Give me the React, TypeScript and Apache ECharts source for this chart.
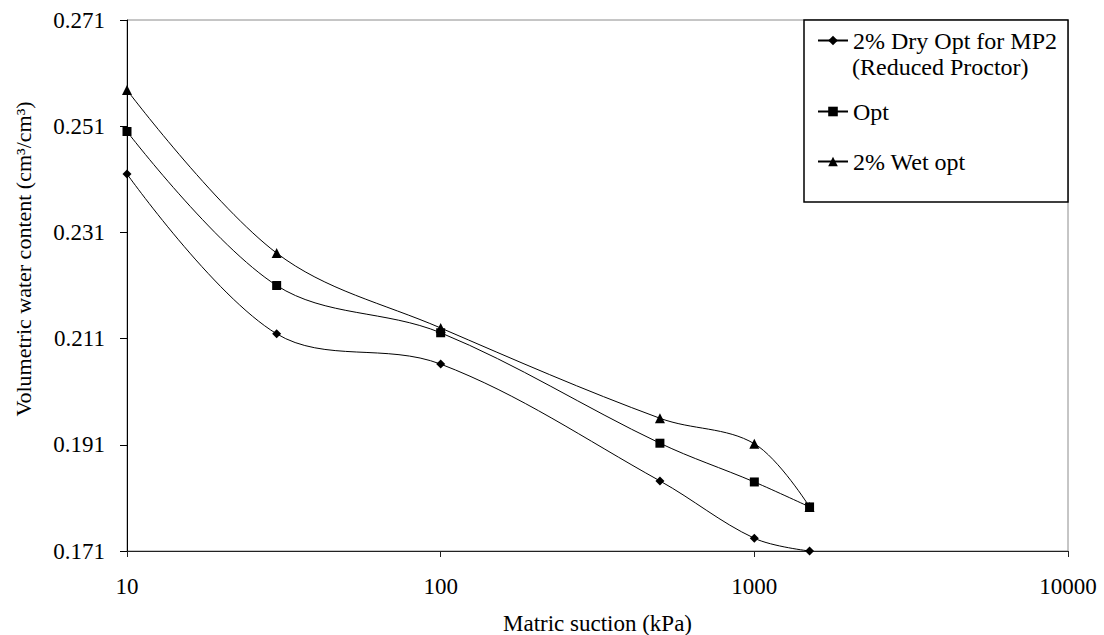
import React, { useEffect, useRef } from "react";
import * as echarts from "echarts";

const suction = [10, 30, 100, 500, 1000, 1500];
const dryOpt = [0.242, 0.2119, 0.2062, 0.1842, 0.1734, 0.171];
const opt = [0.25, 0.221, 0.2121, 0.1913, 0.184, 0.1793];
const wetOpt = [0.2578, 0.2271, 0.213, 0.196, 0.1912, 0.1793];
const seriesNames = ["2% Dry Opt for MP2 (Reduced Proctor)", "Opt", "2% Wet opt"];
const FONT = "Liberation Serif, Times New Roman, serif";

const pairs = (ys: number[]) => suction.map((x, i) => [x, ys[i]]);

export default function App() {
  const ref = useRef<HTMLDivElement>(null);
  useEffect(() => {
    if (!ref.current) return;
    const chart = echarts.init(ref.current, null, { renderer: "svg" });
    const baseSeries = (name: string, data: number[], symbol: string, size: number) => ({
      name,
      type: "line",
      data: pairs(data),
      smooth: 0.35,
      symbol,
      symbolSize: size,
      clip: false,
      lineStyle: { color: "#000", width: 1 },
      itemStyle: { color: "#000" },
      z: 3,
    });
    const legendText = { fontFamily: FONT, fontSize: 24, color: "#000", lineHeight: 27 };
    const legendCommon = {
      orient: "vertical",
      left: 817,
      padding: 0,
      itemWidth: 30,
      itemHeight: 12,
      textStyle: legendText,
      selectedMode: false,
      z: 6,
    };
    chart.setOption({
      animation: false,
      textStyle: { fontFamily: FONT },
      grid: {
        left: 127,
        right: 36,
        top: 20,
        bottom: 84,
        show: true,
        borderColor: "#8c8c8c",
        borderWidth: 1,
        outerBoundsMode: "none",
        containLabel: false,
      },
      xAxis: {
        type: "log",
        logBase: 10,
        min: 10,
        max: 10000,
        axisLine: { lineStyle: { color: "#222", width: 1 } },
        axisTick: { inside: false, length: 6, lineStyle: { color: "#222" } },
        minorTick: { show: false },
        splitLine: { show: false },
        axisLabel: {
          margin: 24,
          fontFamily: FONT,
          fontSize: 23,
          color: "#000",
          formatter: (v: number) => String(Math.round(v)),
        },
        name: "Matric suction (kPa)",
        nameLocation: "middle",
        nameGap: 61,
        nameTextStyle: { fontFamily: FONT, fontSize: 23, lineHeight: 22, color: "#000" },
      },
      yAxis: {
        type: "value",
        min: 0.171,
        max: 0.271,
        interval: 0.02,
        axisLine: { show: true, lineStyle: { color: "#000", width: 1 } },
        axisTick: { show: true, inside: false, length: 7, lineStyle: { color: "#000" } },
        splitLine: { show: false },
        axisLabel: {
          margin: 22,
          fontFamily: FONT,
          fontSize: 23,
          color: "#000",
          formatter: (v: number) => v.toFixed(3),
        },
      },
      legend: [
        {
          ...legendCommon,
          top: 27,
          data: [seriesNames[0]],
          formatter: () => "2% Dry Opt for MP2",
        },
        { ...legendCommon, top: 98, data: [seriesNames[1]] },
        { ...legendCommon, top: 148, data: [seriesNames[2]] },
      ],
      graphic: [
        {
          type: "rect",
          z: 5,
          shape: { x: 804, y: 20, width: 264, height: 182 },
          style: { fill: "#fff", stroke: "#000", lineWidth: 1.5 },
        },
        {
          type: "text",
          z: 7,
          x: 852,
          y: 67,
          style: {
            text: "(Reduced Proctor)",
            fontFamily: FONT,
            fontSize: 24,
            fill: "#000",
            align: "left",
            verticalAlign: "middle",
          },
        },
        {
          type: "text",
          z: 7,
          x: 23,
          y: 259,
          rotation: Math.PI / 2,
          style: {
            text: "Volumetric water content (cm³/cm³)",
            fontFamily: FONT,
            fontSize: 22,
            fill: "#000",
            align: "center",
            verticalAlign: "middle",
          },
        },
      ],
      series: [
        baseSeries(seriesNames[0], dryOpt, "diamond", 9),
        baseSeries(seriesNames[1], opt, "rect", 9),
        baseSeries(seriesNames[2], wetOpt, "triangle", 10),
      ],
    });
    return () => chart.dispose();
  }, []);
  return <div ref={ref} style={{ width: 1104, height: 635, position: "absolute", left: 0, top: 0 }} />;
}
